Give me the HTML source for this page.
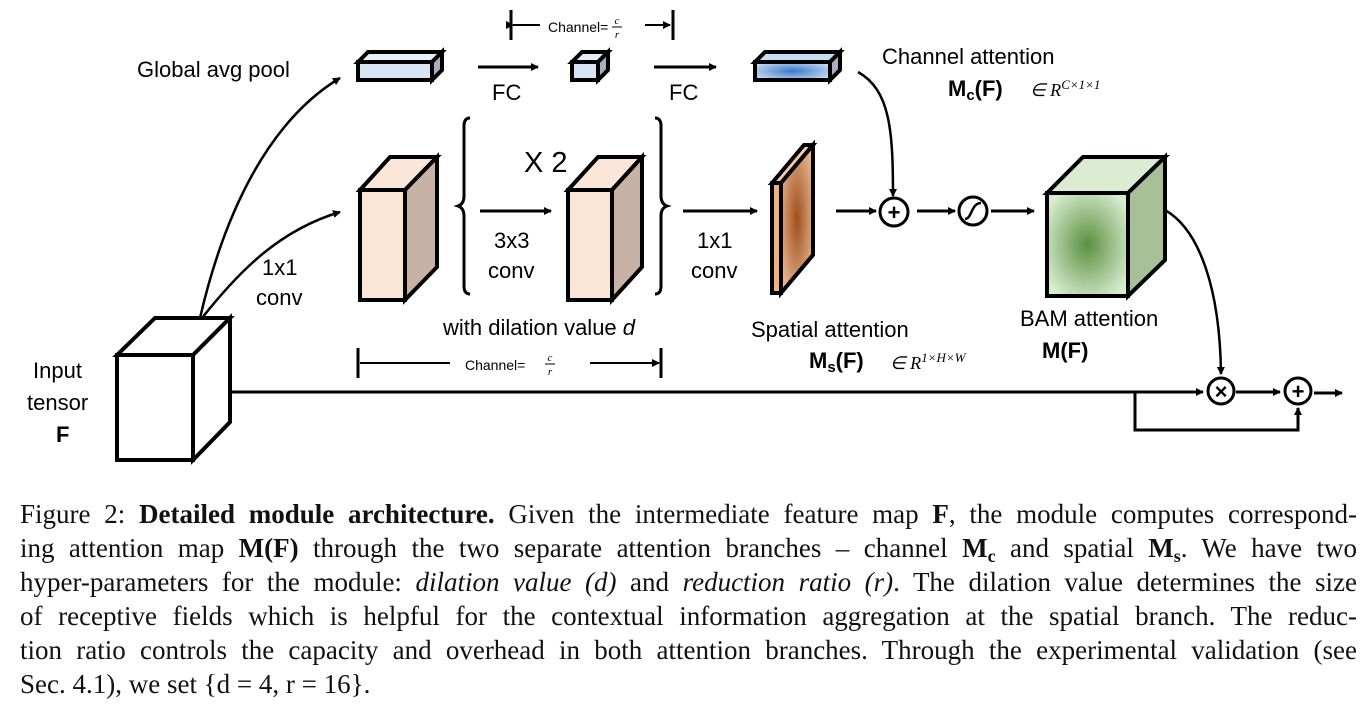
<!DOCTYPE html>
<html><head><meta charset="utf-8"><style>
body{margin:0;background:#fff;width:1370px;height:724px;overflow:hidden;position:relative}
svg{position:absolute;left:0;top:0}
.cap{position:absolute;left:20px;top:497px;width:1337px;font-family:"Liberation Serif",serif;font-size:27px;color:#111}
.cap div{height:34px;line-height:34px;white-space:nowrap;text-align:justify;text-align-last:justify}
.cap div.last{text-align-last:left}
.cap sub{font-size:18px;line-height:0;vertical-align:-5px}
</style></head><body>
<svg width="1370" height="490" font-family="Liberation Sans, sans-serif">
<defs>
<radialGradient id="br" cx="50%" cy="50%" r="60%"><stop offset="0" stop-color="#a0501a"/><stop offset="1" stop-color="#e8b898"/></radialGradient>
<radialGradient id="gr" cx="50%" cy="50%" r="60%"><stop offset="0" stop-color="#5a9040"/><stop offset="1" stop-color="#d8ecd0"/></radialGradient>
<radialGradient id="bl" cx="50%" cy="50%" r="60%"><stop offset="0" stop-color="#3a78c8"/><stop offset="1" stop-color="#c8dcf0"/></radialGradient>
<marker id="a" markerWidth="8" markerHeight="8" refX="7" refY="4" orient="auto" markerUnits="userSpaceOnUse"><path d="M0,0 L8,4 L0,8z" fill="#000"/></marker>
</defs>
<g stroke="#000" stroke-width="4" stroke-linejoin="miter">
<polygon points="117,355 155,318 230,318 193,355" fill="#fff"/>
<polygon points="193,355 230,318 230,422 193,460" fill="#fff"/>
<rect x="117" y="355" width="76" height="105" fill="#fff"/>
<polygon points="360,190 390,157 437,157 405,190" fill="#fbe7da"/>
<polygon points="405,190 437,157 437,267 405,300" fill="#c8b2a6"/>
<rect x="360" y="190" width="45" height="110" fill="#fbe5d6"/>
<polygon points="568,190 598,157 642,157 612,190" fill="#fbe7da"/>
<polygon points="612,190 642,157 642,267 612,300" fill="#c8b2a6"/>
<rect x="568" y="190" width="44" height="110" fill="#fbe5d6"/>
<polygon points="772,183 804,145 813,145 781,183" fill="#f4c9a8"/>
<polygon points="781,183 813,145 813,255 781,293" fill="url(#br)"/>
<rect x="772" y="183" width="9" height="110" fill="#f0b084"/>
<polygon points="1047,193 1083,157 1165,157 1128,193" fill="#dcecd2"/>
<polygon points="1128,193 1165,157 1165,260 1128,296" fill="#a8c098"/>
<rect x="1047" y="193" width="81" height="103" fill="url(#gr)"/>
<polygon points="358,62 368,52 442,52 432,62" fill="#e6eef8"/>
<polygon points="432,62 442,52 442,70 432,80" fill="#a8b0c0"/>
<rect x="358" y="62" width="74" height="18" fill="#d8e4f4"/>
<polygon points="572,62 582,52 608,52 598,62" fill="#e6eef8"/>
<polygon points="598,62 608,52 608,70 598,80" fill="#a8b0c0"/>
<rect x="572" y="62" width="26" height="18" fill="#d8e4f4"/>
<polygon points="755,62 765,52 840,52 830,62" fill="#c8dcf0"/>
<polygon points="830,62 840,52 840,70 830,80" fill="#a8b0c0"/>
<rect x="755" y="62" width="75" height="18" fill="url(#bl)"/>
</g>
<g stroke="#000" stroke-width="3" fill="none">
<line x1="478" y1="67" x2="538" y2="67" marker-end="url(#a)"/>
<line x1="654" y1="67" x2="716" y2="67" marker-end="url(#a)"/>
<line x1="480" y1="211" x2="551" y2="211" marker-end="url(#a)"/>
<line x1="683" y1="211" x2="757" y2="211" marker-end="url(#a)"/>
<line x1="836" y1="211" x2="876" y2="211" marker-end="url(#a)"/>
<line x1="917" y1="211" x2="955" y2="211" marker-end="url(#a)"/>
<line x1="991" y1="211" x2="1034" y2="211" marker-end="url(#a)" />
<line x1="232" y1="392" x2="1203" y2="392" marker-end="url(#a)"/>
<line x1="1236" y1="392" x2="1280" y2="392" marker-end="url(#a)"/>
<line x1="1314" y1="393" x2="1342" y2="393" marker-end="url(#a)"/>
<polyline points="1135,392 1135,430 1298,430 1298,408" marker-end="url(#a)"/>
<path d="M200,318 C225,210 270,120 340,78" stroke-width="2.5" marker-end="url(#a)"/>
<path d="M202,318 C240,270 280,230 340,212" stroke-width="2.5" marker-end="url(#a)"/>
<path d="M858,72 C890,90 893,130 893,196" stroke-width="2.5" marker-end="url(#a)"/>
<path d="M1165,210 C1200,230 1220,290 1221,374" stroke-width="2.5" marker-end="url(#a)"/>
<circle cx="894" cy="212" r="14"/><circle cx="973" cy="211" r="14"/>
<circle cx="1221" cy="391" r="13"/><circle cx="1298" cy="391" r="13"/>
<path d="M965,219 C972,219 971,203 981,203" stroke-width="2.5"/>
<path d="M470,118 q-6,0 -6,8 v70 q0,8 -6,10 q6,2 6,10 v70 q0,8 6,8"/>
<path d="M655,118 q6,0 6,8 v70 q0,8 6,10 q-6,2 -6,10 v70 q0,8 -6,8"/>
<line x1="511" y1="10" x2="511" y2="40"/><line x1="673" y1="10" x2="673" y2="40"/>
<line x1="358" y1="348" x2="358" y2="378"/><line x1="661" y1="348" x2="661" y2="378"/>
</g>
<g stroke="#000" stroke-width="2">
<line x1="513" y1="25" x2="540" y2="25" marker-start="url(#a)"/>
<line x1="645" y1="25" x2="670" y2="25" marker-end="url(#a)"/>
<line x1="360" y1="363" x2="450" y2="363"/>
<line x1="590" y1="363" x2="659" y2="363" marker-end="url(#a)"/>
</g>
<g fill="#000" font-weight="bold" font-size="22" text-anchor="middle">
<text x="894" y="220">+</text><text x="1298" y="399">+</text><text x="1221" y="399">×</text>
</g>
<g font-size="22" fill="#000">
<text x="137" y="77">Global avg pool</text>
<text x="492" y="100">FC</text><text x="669" y="100">FC</text>
<text x="882" y="64">Channel attention</text>
<text x="948" y="96" font-weight="bold">M<tspan font-size="15" dy="4">c</tspan><tspan dy="-4">(F)</tspan></text>
<text x="1030" y="96" font-size="18" font-family="Liberation Serif,serif" font-style="italic">∈ R<tspan font-size="13" dy="-7">C×1×1</tspan></text>
<text x="524" y="172" font-size="29">X 2</text>
<text x="494" y="248">3x3</text><text x="488" y="278">conv</text>
<text x="697" y="248">1x1</text><text x="691" y="278">conv</text>
<text x="262" y="275">1x1</text><text x="256" y="305">conv</text>
<text x="443" y="335">with dilation value <tspan font-style="italic">d</tspan></text>
<text x="751" y="337">Spatial attention</text>
<text x="809" y="368" font-weight="bold">M<tspan font-size="15" dy="4">s</tspan><tspan dy="-4">(F)</tspan></text>
<text x="890" y="369" font-size="18" font-family="Liberation Serif,serif" font-style="italic">∈ R<tspan font-size="13" dy="-7">1×H×W</tspan></text>
<text x="1020" y="326">BAM attention</text>
<text x="1042" y="358" font-weight="bold">M(F)</text>
<text x="33" y="378">Input</text><text x="27" y="410">tensor</text>
<text x="56" y="442" font-weight="bold">F</text>
<text x="548" y="32" font-size="14">Channel=</text>
<text x="465" y="370" font-size="14">Channel=</text>
</g>
<g font-size="11" font-style="italic" font-family="Liberation Serif,serif" text-anchor="middle">
<text x="617" y="24">c</text><text x="617" y="38">r</text><line x1="612" y1="27" x2="622" y2="27" stroke="#000"/>
<text x="550" y="361">c</text><text x="550" y="375">r</text><line x1="545" y1="364" x2="555" y2="364" stroke="#000"/>
</g>
</svg>
<div class="cap">
<div>Figure 2: <b>Detailed module architecture.</b> Given the intermediate feature map <b>F</b>, the module computes correspond-</div>
<div>ing attention map <b>M(F)</b> through the two separate attention branches – channel <b>M<sub>c</sub></b> and spatial <b>M<sub>s</sub></b>. We have two</div>
<div>hyper-parameters for the module: <i>dilation value (d)</i> and <i>reduction ratio (r)</i>. The dilation value determines the size</div>
<div>of receptive fields which is helpful for the contextual information aggregation at the spatial branch. The reduc-</div>
<div>tion ratio controls the capacity and overhead in both attention branches. Through the experimental validation (see</div>
<div class="last">Sec. 4.1), we set {d = 4, r = 16}.</div>
</div>
</body></html>
